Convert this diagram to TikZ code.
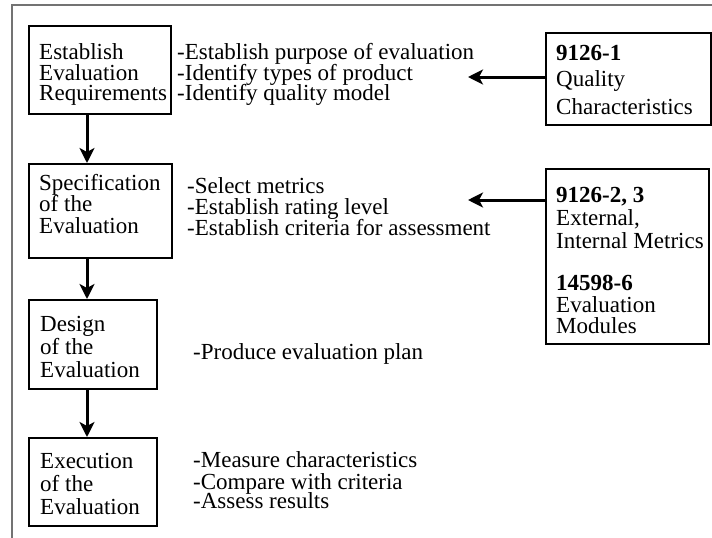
\documentclass[tikz,border=0pt]{standalone}
\usepackage{fontspec}
\setmainfont{Liberation Serif}
\usetikzlibrary{arrows.meta}
\begin{document}
\begin{tikzpicture}[x=1pt,y=-1pt,
  frame/.style={draw=black!55,line width=2pt},
  stagebox/.style={draw,line width=1.8pt,rectangle,inner sep=0pt,anchor=north west},
  txt/.style={anchor=base west,inner sep=0pt,font=\fontsize{23pt}{22pt}\selectfont},
  bold/.style={txt,font=\fontsize{23pt}{22pt}\selectfont\bfseries},
  arr/.style={line width=3pt,-{Stealth[length=15pt,width=15pt,inset=4pt]}}]
\useasboundingbox (0,0) rectangle (712,538);
% outer frame (top and left edges)
\draw[frame] (712,5) -- (12,5) -- (12,538);

% stage boxes
\node[stagebox,minimum width=142pt,minimum height=88pt] (req) at (28,25) {};
\node[stagebox,minimum width=143pt,minimum height=94pt] (spec) at (28,163) {};
\node[stagebox,minimum width=128pt,minimum height=89pt] (des) at (28,299) {};
\node[stagebox,minimum width=128pt,minimum height=88pt] (exe) at (28,437) {};
% standards boxes
\node[stagebox,minimum width=165pt,minimum height=92pt] (q1) at (545,32) {};
\node[stagebox,minimum width=163pt,minimum height=175pt] (q2) at (545,168) {};

% stage labels
\node[txt] (reqa) at (39,59) {Establish};
\node[txt] (reqb) at (39,80) {Evaluation};
\node[txt] (reqc) at (39,100) {Requirements};
\node[txt] (speca) at (39,190) {Specification};
\node[txt] (specb) at (39,211) {of the};
\node[txt] (specc) at (39,233) {Evaluation};
\node[txt] (desa) at (40,331) {Design};
\node[txt] (desb) at (40,354) {of the};
\node[txt] (desc) at (40,377) {Evaluation};
\node[txt] (exea) at (40,468) {Execution};
\node[txt] (exeb) at (40,491) {of the};
\node[txt] (exec) at (40,514) {Evaluation};

% activities
\node[txt] (r1) at (177,59) {-Establish purpose of evaluation};
\node[txt] (r2) at (177,80) {-Identify types of product};
\node[txt] (r3) at (177,100) {-Identify quality model};
\node[txt] (s1) at (187,193) {-Select metrics};
\node[txt] (s2) at (187,214) {-Establish rating level};
\node[txt] (s3) at (187,235) {-Establish criteria for assessment};
\node[txt] (d1) at (193,359) {-Produce evaluation plan};
\node[txt] (e1) at (193,467) {-Measure characteristics};
\node[txt] (e2) at (193,489) {-Compare with criteria};
\node[txt] (e3) at (193,508) {-Assess results};

% standards
\node[bold] (n1) at (556,60) {9126-1};
\node[txt] (n1a) at (556,86) {Quality};
\node[txt] (n1b) at (556,114) {Characteristics};
\node[bold] (n2) at (556,202) {9126-2, 3};
\node[txt] (n2a) at (556,225) {External,};
\node[txt] (n2b) at (556,248) {Internal Metrics};
\node[bold] (n3) at (556,290) {14598-6};
\node[txt] (n3a) at (556,312) {Evaluation};
\node[txt] (n3b) at (556,333) {Modules};

% connectors
\coordinate (spine) at (87,0);
\draw[arr] (req.south -| spine) -- (spec.north -| spine);
\draw[arr] (spec.south -| spine) -- (des.north -| spine);
\draw[arr] (des.south -| spine) -- (exe.north -| spine);
\coordinate (t1) at (468,77);
\coordinate (t2) at (468,200);
\draw[arr] (q1.west |- t1) -- (t1);
\draw[arr] (q2.west |- t2) -- (t2);
\end{tikzpicture}
\end{document}
